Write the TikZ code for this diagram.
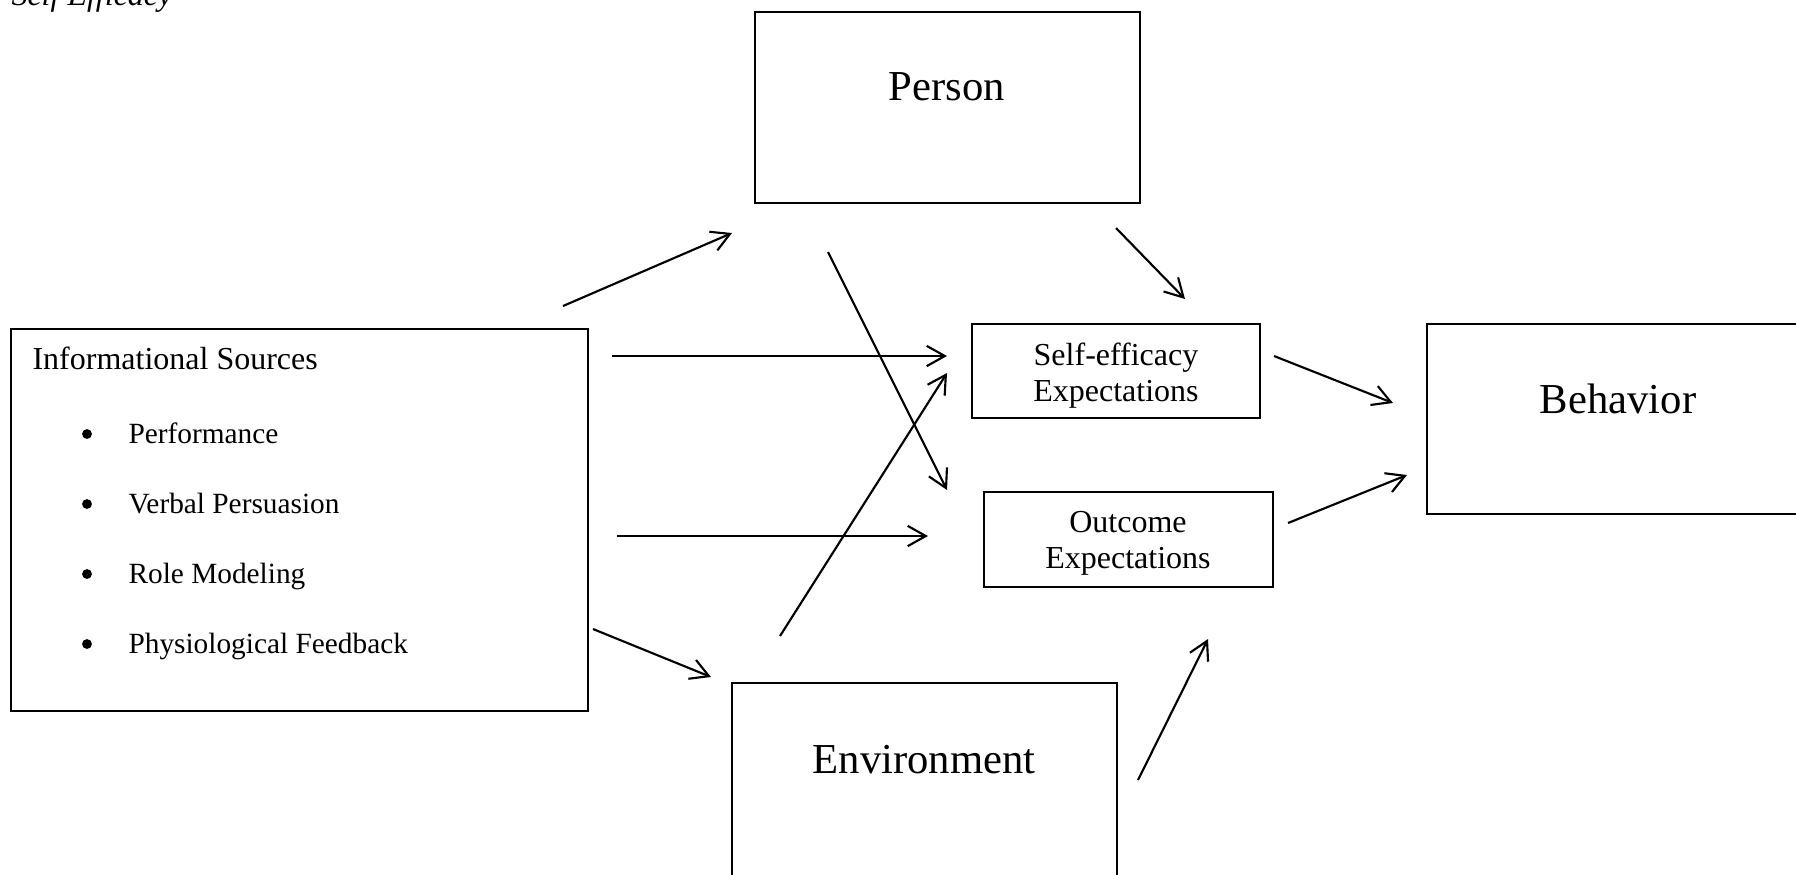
\documentclass[tikz,border=0pt]{standalone}
\usepackage{fontspec}
\setmainfont{Liberation Serif}
\usetikzlibrary{arrows.meta}
\begin{document}
\begin{tikzpicture}[x=0.375pt,y=-0.375pt,
  box/.style={draw,line width=0.85pt,rectangle,inner sep=0pt,outer sep=0pt},
  bigtxt/.style={anchor=base,inner sep=0pt,font=\fontsize{16}{19}\selectfont},
  smalltxt/.style={anchor=base,inner sep=0pt,font=\fontsize{12}{13.5}\selectfont},
  itemtxt/.style={anchor=base west,inner sep=0pt,font=\fontsize{11}{13}\selectfont},
  bulletdot/.style={circle,fill,inner sep=0pt,minimum size=3.7pt},
  arr/.style={line width=0.8pt,-{Straight Barb[length=6.8pt,width=7.6pt,line width=0.8pt]}}]
\useasboundingbox (0,0) rectangle (1796,874);
% title (clipped at top)
\node[anchor=base west,inner sep=0pt,font=\fontsize{12}{13.5}\selectfont\itshape] (title) at (11,5) {Self Efficacy};
% boxes
\node[box,minimum width=144.4pt,minimum height=71.6pt] (person) at (947.5,107.5) {};
\node[box,minimum width=216.4pt,minimum height=143.25pt] (info) at (299.5,520) {};
\node[box,minimum width=108pt,minimum height=35.25pt] (se) at (1116,371) {};
\node[box,minimum width=108.4pt,minimum height=35.6pt] (oe) at (1128.5,539.5) {};
\node[box,minimum width=143.25pt,minimum height=71.25pt] (behav) at (1618,419) {};
\node[box,minimum width=144.4pt,minimum height=72.4pt] (env) at (924.5,779.5) {};
% texts
\node[bigtxt] (tperson) at (947,100) {Person};
\node[bigtxt] (tbehav) at (1618,413) {Behavior};
\node[bigtxt] (tenv) at (924,773) {Environment};
\node[smalltxt] (tse1) at (1116,365) {Self-efficacy};
\node[smalltxt] (tse2) at (1116,401) {Expectations};
\node[smalltxt] (toe1) at (1128,532) {Outcome};
\node[smalltxt] (toe2) at (1128,568) {Expectations};
\node[anchor=base west,inner sep=0pt,font=\fontsize{12}{13.5}\selectfont] (tinfo) at (32,369) {Informational Sources};
\foreach \y/\t [count=\i] in {443/Performance,513/Verbal Persuasion,583/Role Modeling,653/Physiological Feedback}{
  \node[bulletdot] (b\i) at (87,\y-9) {};
  \node[itemtxt] (it\i) at (128,\y) {\t};
}
% arrow end points
\coordinate (a1s) at (563,306);  \coordinate (a1e) at (732,233);
\coordinate (a2s) at (828,252);  \coordinate (a2e) at (947,490);
\coordinate (a3s) at (1116,228); \coordinate (a3e) at (1185,299);
\coordinate (a4s) at (612,356);  \coordinate (a4e) at (947,356);
\coordinate (a5s) at (617,536);  \coordinate (a5e) at (928,536);
\coordinate (a6s) at (780,636);  \coordinate (a6e) at (947,373);
\coordinate (a7s) at (593,629);  \coordinate (a7e) at (711,677);
\coordinate (a8s) at (1138,780); \coordinate (a8e) at (1208,639);
\coordinate (a9s) at (1274,356); \coordinate (a9e) at (1393,403);
\coordinate (a10s) at (1288,523); \coordinate (a10e) at (1407,475);
\foreach \i in {1,...,10}{\draw[arr] (a\i s) -- (a\i e);}
\end{tikzpicture}
\end{document}
